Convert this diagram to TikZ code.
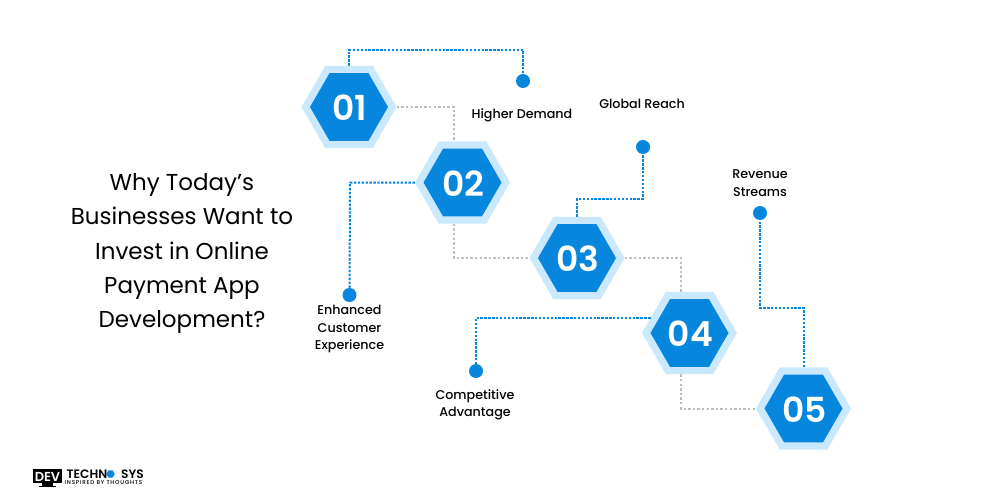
\documentclass[tikz,border=0pt]{standalone}
\usepackage{fontspec}
\setmainfont{Poppins}
\newfontfamily\medfont{Poppins Medium}
\newfontfamily\semifont{Poppins SemiBold}
\usetikzlibrary{shapes.geometric}
\definecolor{hexblue}{HTML}{0786DD}
\definecolor{hexpale}{HTML}{CBE9FE}
\definecolor{linegrey}{HTML}{BDBDBD}
\tikzset{
  hexouter/.style={regular polygon,regular polygon sides=6,minimum size=95pt,inner sep=0pt,fill=hexpale},
  hexinner/.style={regular polygon,regular polygon sides=6,minimum size=78pt,inner sep=0pt,fill=hexblue},
  hexnum/.style={text=white,font=\semifont\fontsize{34.5}{34.5}\selectfont,inner sep=0pt},
  dotend/.style={circle,fill=hexblue,minimum size=14pt,inner sep=0pt},
  bluelink/.style={draw=hexblue,line width=2pt,dash pattern=on 2.4pt off 1.5pt},
  greylink/.style={draw=linegrey,line width=2pt,dash pattern=on 2.4pt off 2.2pt},
  lab/.style={align=center,text=black,font=\medfont\fontsize{12.7}{17.5}\selectfont},
  heading/.style={align=center,text=black,font=\fontsize{23}{34.2}\selectfont},
  logobig/.style={text=black,font=\semifont\fontsize{12.2}{12.2}\selectfont,inner sep=0pt}
}
\begin{document}
\begin{tikzpicture}[x=1pt,y=-1pt]
\useasboundingbox[fill=white] (0,0) rectangle (1000,500);
% hexagons
\foreach \n/\x/\y in {1/349/107,2/462.5/182.5,3/577/258,4/689.5/333,5/803.5/408.5}{
  \node[hexouter] (o\n) at (\x,\y) {};
  \node[hexinner] (h\n) at (\x,\y) {};
  \node[hexnum] (n\n) at (\x+1,\y+1) {0\n};
}
% end dots
\node[dotend] (d1) at (523,81) {};
\node[dotend] (d2) at (349.5,295) {};
\node[dotend] (d3) at (643,147) {};
\node[dotend] (d4) at (476,371) {};
\node[dotend] (d5) at (760,213) {};
% bend points
\coordinate (b1) at (523,50);
\coordinate (b2) at (350,182.5);
\coordinate (b3a) at (577,199);
\coordinate (b3b) at (643,199);
\coordinate (s4) at (650.5,318);
\coordinate (b4) at (476,318);
\coordinate (b5a) at (804,308);
\coordinate (b5b) at (760,308);
\coordinate (g1) at (454,107);
\coordinate (g2) at (454,258);
\coordinate (g3) at (681,258);
\coordinate (g4) at (681,408.5);
% blue links
\draw[bluelink] (o1.north) |- (b1) -- (d1);
\draw[bluelink] (o2.west) -- (b2) -- (d2);
\draw[bluelink] (o3.north) -- (b3a) -- (b3b) -- (d3);
\draw[bluelink] (s4) -- (b4) -- (d4);
\draw[bluelink] (o5.north -| b5a) -- (b5a) -- (b5b) -- (d5);
% grey links
\draw[greylink] (o1.east) -- (g1) -- (o2.north -| g1);
\draw[greylink] (o2.south -| g2) -- (g2) -- (o3.west);
\draw[greylink] (o3.east) -- (g3) -- (o4.north -| g3);
\draw[greylink] (o4.south -| g4) -- (g4) -- (o5.west);
% labels
\node[lab] (t1) at (522,115) {Higher Demand};
\node[lab] (t2) at (349.5,329) {Enhanced\\Customer\\Experience};
\node[lab] (t3) at (642,104) {Global Reach};
\node[lab] (t4) at (475,405) {Competitive\\Advantage};
\node[lab] (t5) at (760,183) {Revenue\\Streams};
\node[heading] (title) at (182,253.5) {Why Today’s\\Businesses Want to\\Invest in Online\\Payment App\\Development?};
% logo
\fill[black] (33,469) rectangle (62,483);
\fill[black] (42,483) rectangle (53,485.5);
\fill[black] (39,485.5) rectangle (56,487);
\node[text=white,font=\semifont\fontsize{13}{13}\selectfont,inner sep=0pt] (lg1) at (47.5,476.5) {DEV};
\node[logobig,anchor=base west] (lg2) at (66.5,478.3) {TECHN};
\node[regular polygon,regular polygon sides=6,minimum size=8.5pt,inner sep=0pt,fill=hexblue] (lg3) at (110.5,474) {};
\node[logobig,anchor=base east] (lg4) at (144,478.3) {SYS};
\node[anchor=base west,text=black,font=\medfont\addfontfeature{LetterSpace=14}\fontsize{5.6}{5.6}\selectfont,inner sep=0pt] (lg5) at (64.5,484.5) {INSPIRED BY THOUGHTS};
\end{tikzpicture}
\end{document}
